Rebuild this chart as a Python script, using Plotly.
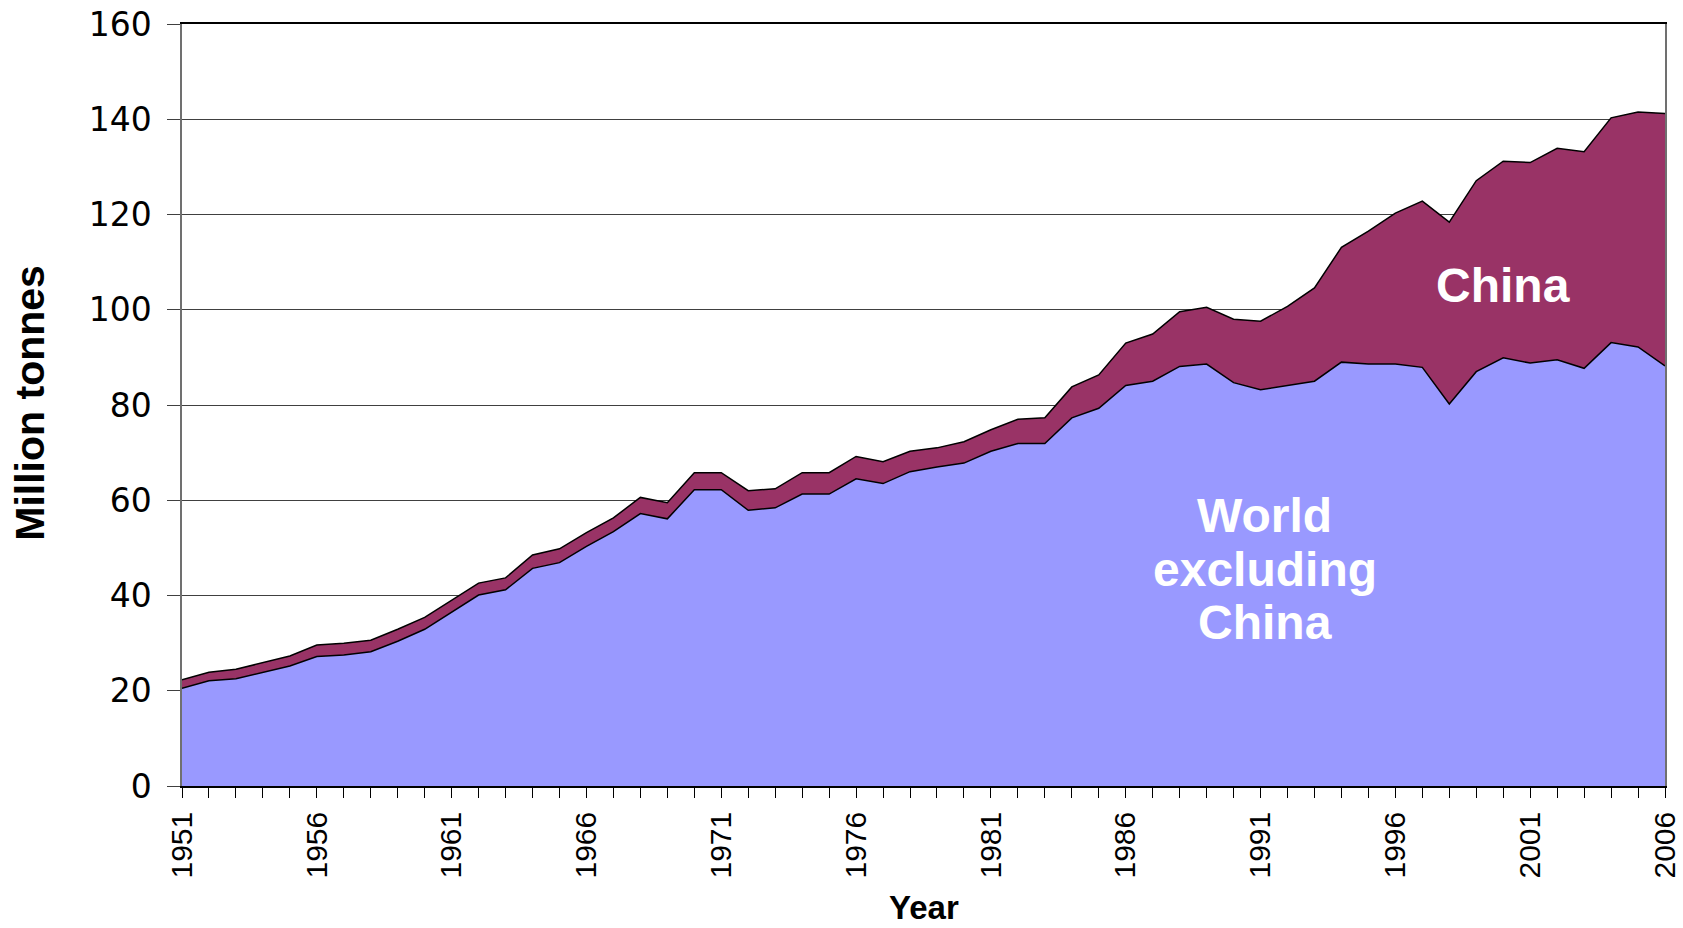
import plotly.graph_objects as go

years = list(range(1951, 2007))

world_excl_china = [
    20.5, 22.1, 22.5, 23.9, 25.2, 27.2, 27.5, 28.2, 30.4, 32.9,
    36.5, 40.1, 41.2, 45.7, 46.9, 50.3, 53.4, 57.2, 56.1, 62.2,
    62.2, 57.9, 58.4, 61.3, 61.3, 64.5, 63.5, 66.0, 67.0, 67.8,
    70.3, 71.9, 71.9, 77.3, 79.3, 84.1, 85.0, 88.1, 88.6, 84.7,
    83.2, 84.1, 85.0, 89.0, 88.6, 88.6, 87.9, 80.2, 87.0, 89.9,
    88.8, 89.5, 87.7, 93.1, 92.2, 88.2,
]

world_total = [
    22.3, 23.9, 24.5, 25.9, 27.3, 29.6, 30.0, 30.6, 32.9, 35.4,
    39.0, 42.6, 43.7, 48.5, 49.8, 53.2, 56.3, 60.6, 59.5, 65.8,
    65.8, 62.0, 62.4, 65.8, 65.8, 69.2, 68.1, 70.3, 71.0, 72.3,
    74.8, 77.0, 77.3, 83.8, 86.3, 93.0, 94.9, 99.6, 100.5, 98.0,
    97.6, 100.7, 104.6, 113.1, 116.5, 120.3, 122.8, 118.4, 127.1, 131.2,
    130.9, 133.9, 133.2, 140.3, 141.5, 141.2,
]

china = [round(t - w, 1) for t, w in zip(world_total, world_excl_china)]

label_years = years[::5]

fig = go.Figure()

fig.add_trace(go.Scatter(
    x=years, y=world_excl_china, name="World excluding China",
    stackgroup="one", mode="lines",
    line=dict(color="black", width=1.5),
    fillcolor="#9999FF",
))
fig.add_trace(go.Scatter(
    x=years, y=china, name="China",
    stackgroup="one", mode="lines",
    line=dict(color="black", width=1.5),
    fillcolor="#993366",
))

label_font = dict(family="Liberation Sans, Arial", size=48, color="white")
fig.add_annotation(x=2000.0, y=105.1, text="<b>China</b>", showarrow=False, font=label_font)
fig.add_annotation(x=1991.16, y=56.8, text="<b>World</b>", showarrow=False, font=label_font)
fig.add_annotation(x=1991.16, y=45.5, text="<b>excluding</b>", showarrow=False, font=label_font)
fig.add_annotation(x=1991.16, y=34.4, text="<b>China</b>", showarrow=False, font=label_font)

# axis titles as annotations so they sit where the original has them
fig.add_annotation(
    x=-0.1025, y=0.503, xref="paper", yref="paper",
    xanchor="center", yanchor="middle", textangle=-90,
    text="<b>Million tonnes</b>", showarrow=False,
    font=dict(family="Liberation Sans, Arial", size=41, color="black"),
)
fig.add_annotation(
    x=0.5, y=-0.159, xref="paper", yref="paper",
    xanchor="center", yanchor="middle",
    text="<b>Year</b>", showarrow=False,
    font=dict(family="Liberation Sans, Arial", size=33, color="black"),
)

fig.update_layout(
    width=1683, height=928,
    margin=dict(l=182, r=18, t=24, b=142),
    paper_bgcolor="white", plot_bgcolor="white",
    showlegend=False,
    font=dict(family="DejaVu Sans", color="black"),
)

fig.update_xaxes(
    range=[1951, 2006],
    tickvals=label_years,
    ticks="outside", ticklen=10, tickcolor="black",
    tickangle=-90,
    tickfont=dict(family="Liberation Sans", size=30),
    ticklabelstandoff=2,
    ticklabeloverflow="allow",
    minor=dict(dtick=1, tick0=1951, ticks="outside", ticklen=10, tickcolor="black"),
    showgrid=False, zeroline=False,
    showline=True, linecolor="black", linewidth=1.5, mirror=True,
    automargin=False,
)

fig.update_yaxes(
    range=[0, 160], dtick=20,
    ticks="outside", ticklen=13, tickcolor="#404040",
    tickfont=dict(family="DejaVu Sans", size=33),
    ticklabelstandoff=9,
    ticklabeloverflow="allow",
    showgrid=True, gridcolor="#404040", gridwidth=1,
    zeroline=False,
    showline=True, linecolor="#707070", linewidth=1.5, mirror=True,
    automargin=False,
)

# the default page puts an 8px margin round the body; drop it so the
# 1683x928 figure fills the window exactly
fig.write_html(
    "out.html",
    config={"displayModeBar": False},
    post_script="document.body.style.margin = '0';",
)
